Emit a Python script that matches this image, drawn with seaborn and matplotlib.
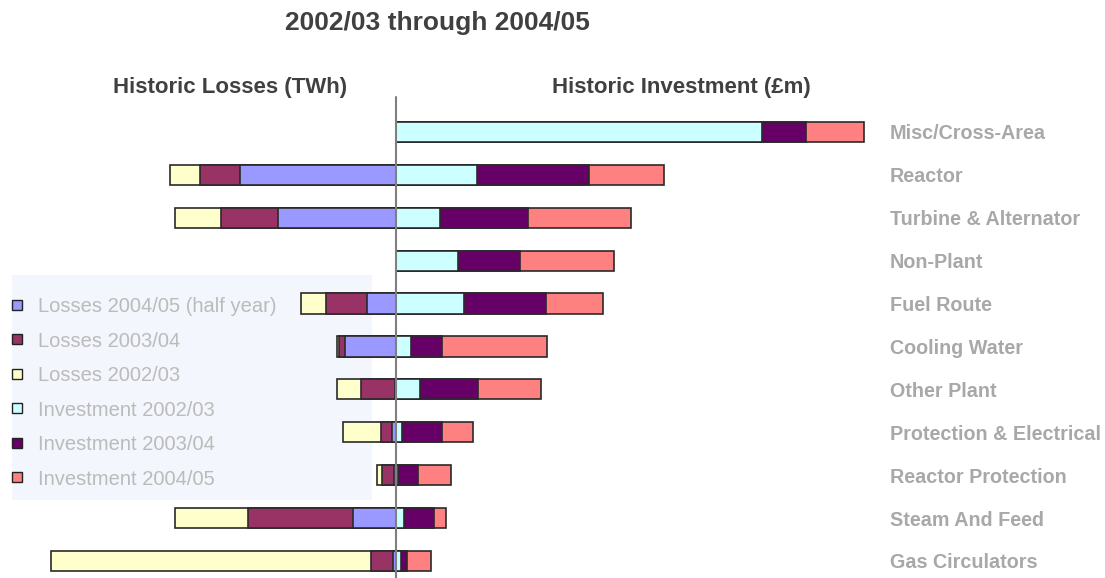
import numpy as np
import pandas as pd
import matplotlib
matplotlib.use("Agg")
import matplotlib.pyplot as plt
from matplotlib.lines import Line2D
from matplotlib.patches import Rectangle
import seaborn as sns

# ---------------- data ----------------
categories = ["Misc/Cross-Area", "Reactor", "Turbine & Alternator", "Non-Plant",
              "Fuel Route", "Cooling Water", "Other Plant", "Protection & Electrical",
              "Reactor Protection", "Steam And Feed", "Gas Circulators"]

# Historic losses (TWh)
loss_2004_05 = [0, 0.78, 0.59, 0, 0.145, 0.255, 0.005, 0.02, 0.01, 0.215, 0.015]
loss_2003_04 = [0, 0.20, 0.285, 0, 0.205, 0.028, 0.168, 0.055, 0.06, 0.525, 0.11]
loss_2002_03 = [0, 0.15, 0.23, 0, 0.125, 0.013, 0.123, 0.19, 0.027, 0.365, 1.60]

# Historic investment (£m)
inv_2002_03 = [36.6, 8.1, 4.4, 6.2, 6.8, 1.5, 2.4, 0.6, 0.2, 0.8, 0.5]
inv_2003_04 = [4.4, 11.2, 8.8, 6.2, 8.2, 3.1, 5.8, 4.0, 2.0, 3.0, 0.6]
inv_2004_05 = [5.8, 7.5, 10.3, 9.4, 5.7, 10.5, 6.3, 3.1, 3.3, 1.2, 2.4]

legend_labels = ["Losses 2004/05 (half year)", "Losses 2003/04", "Losses 2002/03",
                 "Investment 2002/03", "Investment 2003/04", "Investment 2004/05"]

# ---------------- style ----------------
c_l0405, c_l0304, c_l0203 = "#9999FF", "#993366", "#FFFFCC"
c_i0203, c_i0304, c_i0405 = "#CCFFFF", "#660066", "#FF8080"
edge = "#2a2a2a"

sns.set_style("white")
plt.rcParams["font.family"] = ["Liberation Sans", "DejaVu Sans"]

W, H = 1105, 578
fig = plt.figure(figsize=(W / 100, H / 100), dpi=100)

C = 396          # centre line (px)
top_px, bot_px = 110.5, 578
left_px, right_px = 20, 880
loss_scale = 200.0   # px per TWh
inv_scale = 10.0     # px per £m
step = 42.9
ylim = (10 + (bot_px - 561) / step, -0.5)

def fx(px):
    return px / W

def fy(px):
    return 1 - px / H

axL = fig.add_axes([fx(left_px), fy(bot_px), fx(C - left_px), (bot_px - top_px) / H])
axR = fig.add_axes([fx(C), fy(bot_px), fx(right_px - C), (bot_px - top_px) / H])

# background box of legend
fig.add_artist(Rectangle((fx(12), fy(500)), fx(360), 225 / H, transform=fig.transFigure,
                         facecolor="#F3F6FC", edgecolor="none", zorder=-5))
for ax in (axL, axR):
    ax.patch.set_alpha(0)

df = pd.DataFrame({"cat": categories,
                   "l1": loss_2004_05, "l2": loss_2003_04, "l3": loss_2002_03,
                   "i1": inv_2002_03, "i2": inv_2003_04, "i3": inv_2004_05})
df["L_b"] = df["l1"]
df["L_m"] = df["l1"] + df["l2"]
df["L_y"] = df["l1"] + df["l2"] + df["l3"]
df["I_c"] = df["i1"]
df["I_p"] = df["i1"] + df["i2"]
df["I_s"] = df["i1"] + df["i2"] + df["i3"]

bw = 0.47
kw = dict(orient="h", order=categories, width=bw, saturation=1,
          edgecolor=edge, linewidth=1.2, errorbar=None)

for col, colr in [("L_y", c_l0203), ("L_m", c_l0304), ("L_b", c_l0405)]:
    sub = df[df[col] > 0]
    sns.barplot(data=sub, x=col, y="cat", color=colr, ax=axL, **kw)
for col, colr in [("I_s", c_i0405), ("I_p", c_i0304), ("I_c", c_i0203)]:
    sub = df[df[col] > 0]
    sns.barplot(data=sub, x=col, y="cat", color=colr, ax=axR, **kw)

axL.set_xlim((C - left_px) / loss_scale, 0)
axR.set_xlim(0, (right_px - C) / inv_scale)
for ax in (axL, axR):
    ax.set_ylim(*ylim)
    ax.set_xlabel("")
    ax.set_ylabel("")
    ax.set_xticks([])
    for s in ax.spines.values():
        s.set_visible(False)

axL.set_yticks([])
axR.yaxis.tick_right()
axR.tick_params(axis="y", length=0, pad=7)
axR.set_yticks(range(len(categories)))
axR.set_yticklabels(categories, fontsize=14.2, fontweight="bold", color="#A8A8A8")

# centre line
fig.add_artist(Line2D([fx(C), fx(C)], [fy(97), 0], color="#7f7f7f", lw=1.5,
                      transform=fig.transFigure, zorder=10))

# titles
fig.text(fx(437), fy(23), "2002/03 through 2004/05", ha="center", va="center",
         fontsize=19, fontweight="bold", color="#404040")
fig.text(fx(230), fy(88), "Historic Losses (TWh)", ha="center", va="center",
         fontsize=16, fontweight="bold", color="#404040")
fig.text(fx(681), fy(88), "Historic Investment (£m)", ha="center", va="center",
         fontsize=16, fontweight="bold", color="#404040")

# legend
handles = [Line2D([], [], marker="s", linestyle="none", markersize=6.5,
                  markerfacecolor=c, markeredgecolor="#222222", markeredgewidth=1)
           for c in [c_l0405, c_l0304, c_l0203, c_i0203, c_i0304, c_i0405]]
fig.legend(handles, legend_labels, loc="upper left",
           bbox_to_anchor=(fx(9), fy(297)), frameon=False, fontsize=14.5,
           labelcolor="#BBBBBB", handlelength=0.8, handletextpad=0.65,
           labelspacing=0.77, borderpad=0, borderaxespad=0)

fig.savefig("out.png", dpi=100)
